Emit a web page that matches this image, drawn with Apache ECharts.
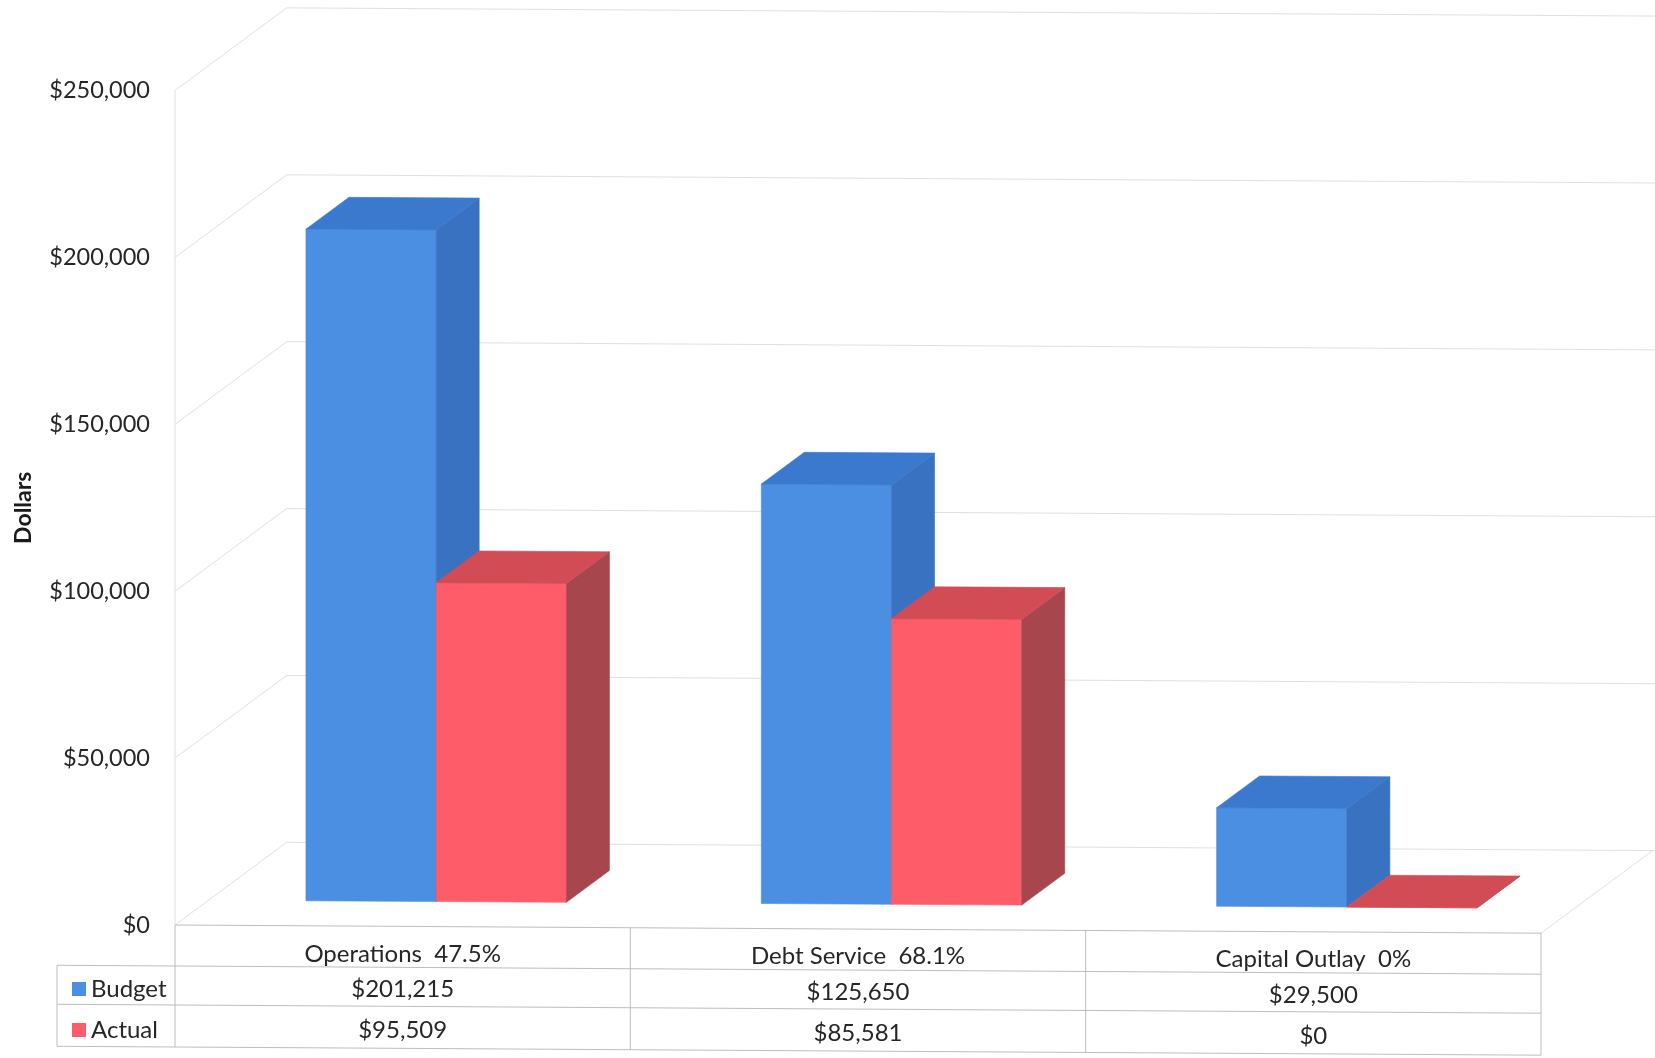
<!DOCTYPE html>
<html><head><meta charset="utf-8">
<script src="https://cdn.jsdelivr.net/npm/echarts@6/dist/echarts.min.js"></script>
<style>html,body{margin:0;padding:0;background:#fff}#c{width:1655px;height:1058px}</style>
</head><body><div id="c"></div>
<script>
// ---- data ----
const categories = ['Operations  47.5%', 'Debt Service  68.1%', 'Capital Outlay  0%'];
const budget = [201215, 125650, 29500];
const actual = [95509, 85581, 0];
const seriesNames = ['Budget', 'Actual'];
const yTicks = [0, 50000, 100000, 150000, 200000, 250000];
const yAxisName = 'Dollars';

// ---- style constants ----
const DX = 111.7, DY = 83.3;          // wall depth offset
const K = 0.006;                       // slight slope of the scanned picture
const BAR_FRAC = 0.286, Z0 = 0.30, ZD = 0.385;
const FONT = 'Lato';
const TXT = '#262626';
const WALL = '#e0e0e0';
const TLINE = '#bdbdbd';
const LEG_X = 57;
const TB = {line1: 41, line2: 80, bottom: 122, t0: 27.5, t1: 63, t2: 104};
const COLORS = [
  {front: '#4A8FE2', top: '#3B79CE', side: '#3A72C2'},
  {front: '#FF5C69', top: '#D24C56', side: '#A8464E'}
];
const fmt = v => '$' + Number(v).toLocaleString('en-US');
const shear = gx => p => [p[0], p[1] + K * (p[0] - gx)];

function line(a, b, color, sh) {
  const p = [a, b].map(sh);
  return {type: 'line', silent: true, shape: {x1: p[0][0], y1: p[0][1], x2: p[1][0], y2: p[1][1]},
    style: {stroke: color, lineWidth: 1}};
}

function barRender(s) {
  return function (params, api) {
    const cs = params.coordSys; const sh = shear(cs.x);
    const i = api.value(0), v = api.value(1);
    const base = api.coord([i, 0]); const top = api.coord([i, v]);
    const bw = api.size([1, 0])[0] * BAR_FRAC;
    const xl = base[0] - bw + s * bw + DX * Z0, xr = xl + bw;
    const yb = base[1] - DY * Z0, yt = top[1] - DY * Z0;
    const bx = DX * ZD, by = DY * ZD;
    const c = COLORS[s];
    const poly = (pts, fill) => ({type: 'polygon', shape: {points: pts.map(sh)},
      style: {fill: fill, stroke: fill, lineWidth: 0.6}});
    return {type: 'group', children: [
      poly([[xl, yt], [xr, yt], [xr, yb], [xl, yb]], c.front),
      poly([[xr, yt], [xr + bx, yt - by], [xr + bx, yb - by], [xr, yb]], c.side),
      poly([[xl, yt], [xr, yt], [xr + bx, yt - by], [xl + bx, yt - by]], c.top)
    ]};
  };
}

function wallRender(params, api) {
  const cs = params.coordSys; const sh = shear(cs.x);
  const v = api.value(1);
  const y = api.coord([0, v])[1];
  const gx = cs.x, gr = cs.x + cs.width, W = api.getWidth();
  const children = [{type: 'polyline', shape: {points: [[gx, y], [gx + DX, y - DY], [W, y - DY]].map(sh)},
    style: {stroke: WALL, lineWidth: 1, fill: null}}];
  if (params.dataIndex === 0) {
    const yTop = api.coord([0, yTicks[yTicks.length - 1]])[1];
    children.push(line([gx, yTop], [gx, y], WALL, sh));
    children.push(line([gr, y], [gr + DX, y - DY], WALL, sh));
  }
  return {type: 'group', children: children};
}

function tableRender(params, api) {
  const cs = params.coordSys; const sh = shear(cs.x);
  const i = api.value(0);
  const c = api.coord([i, 0]);
  const half = api.size([1, 0])[0] / 2;
  const gx = cs.x, gr = cs.x + cs.width, y0 = cs.y + cs.height;
  const ch = [];
  const txt = (str, dy) => {
    const p = sh([c[0], y0 + dy]);
    return {type: 'text', x: p[0], y: p[1], silent: true,
      style: {text: str, fontFamily: FONT, fontSize: 24, fill: TXT,
        align: 'center', verticalAlign: 'middle', textAlign: 'center', textVerticalAlign: 'middle'}};
  };
  ch.push(txt(categories[i], TB.t0));
  ch.push(txt(fmt(budget[i]), TB.t1));
  ch.push(txt(fmt(actual[i]), TB.t2));
  ch.push(line([c[0] + half, y0], [c[0] + half, y0 + TB.bottom], TLINE, sh));
  if (params.dataIndex === 0) {
    ch.push(line([gx, y0], [gr, y0], TLINE, sh));
    ch.push(line([LEG_X, y0 + TB.line1], [gr, y0 + TB.line1], TLINE, sh));
    ch.push(line([LEG_X, y0 + TB.line2], [gr, y0 + TB.line2], TLINE, sh));
    ch.push(line([LEG_X, y0 + TB.bottom], [gr, y0 + TB.bottom], TLINE, sh));
    ch.push(line([gx, y0], [gx, y0 + TB.bottom], TLINE, sh));
    ch.push(line([LEG_X, y0 + TB.line1], [LEG_X, y0 + TB.bottom], TLINE, sh));
  }
  return {type: 'group', children: ch};
}

const chart = echarts.init(document.getElementById('c'), null, {renderer: 'canvas'});
chart.setOption({
  animation: false,
  backgroundColor: '#ffffff',
  grid: {left: 175, right: 114, top: 90.5, bottom: 133, containLabel: false},
  legend: {
    data: seriesNames, orient: 'vertical', left: 67, top: 972,
    itemWidth: 14, itemHeight: 14, itemGap: 17, icon: 'rect', selectedMode: false,
    textStyle: {fontFamily: FONT, fontSize: 24, color: TXT, lineHeight: 24}
  },
  xAxis: {
    type: 'category', data: categories,
    axisLine: {show: false}, axisTick: {show: false}, axisLabel: {show: false}, splitLine: {show: false}
  },
  yAxis: {
    type: 'value', min: 0, max: 250000, interval: 50000,
    name: yAxisName, nameLocation: 'middle', nameRotate: 90, nameGap: 140,
    nameTextStyle: {fontFamily: FONT, fontWeight: 'bold', fontSize: 23, color: '#1a1a1a'},
    axisLine: {show: false}, axisTick: {show: false}, splitLine: {show: false},
    axisLabel: {formatter: v => fmt(v), fontFamily: FONT, fontSize: 23.5, color: TXT, margin: 25,
      padding: [6, 0, 0, 0]}
  },
  series: [
    {type: 'custom', name: 'walls', silent: true, z: 1, renderItem: wallRender,
      data: yTicks.map(v => [0, v])},
    {type: 'custom', name: seriesNames[0], z: 2, renderItem: barRender(0),
      itemStyle: {color: COLORS[0].front}, data: budget.map((v, i) => [i, v])},
    {type: 'custom', name: seriesNames[1], z: 2, renderItem: barRender(1),
      itemStyle: {color: COLORS[1].front}, data: actual.map((v, i) => [i, v])},
    {type: 'custom', name: 'table', silent: true, z: 3, renderItem: tableRender,
      data: categories.map((c, i) => [i, 0])}
  ]
});
</script></body></html>
